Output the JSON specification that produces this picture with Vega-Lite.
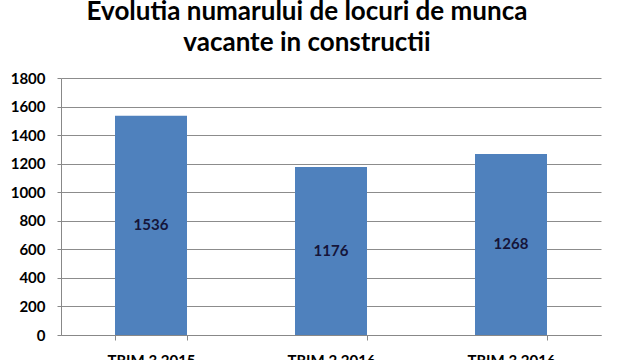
{
  "$schema": "https://vega.github.io/schema/vega-lite/v6.json",
  "width": 540,
  "height": 257,
  "autosize": {"type": "none"},
  "padding": {"left": 61, "top": 78, "right": 39, "bottom": 25},
  "background": "white",
  "title": {
    "text": ["Evolutia numarului de locuri de munca", "vacante in constructii"],
    "font": "Lato",
    "fontSize": 26,
    "fontWeight": "bold",
    "color": "#000000",
    "lineHeight": 31,
    "anchor": "middle",
    "dx": -24,
    "offset": 15
  },
  "data": {
    "values": [
      {"trim": "TRIM 3 2015", "locuri": 1536},
      {"trim": "TRIM 2 2016", "locuri": 1176},
      {"trim": "TRIM 3 2016", "locuri": 1268}
    ]
  },
  "config": {
    "view": {"stroke": null},
    "axis": {"labelFont": "Lato", "labelFontWeight": "bold", "labelColor": "#000000"},
    "axisY": {
      "values": [0, 200, 400, 600, 800, 1000, 1200, 1400, 1600, 1800],
      "format": "d",
      "labelOverlap": false,
      "labelFontSize": 15,
      "labelPadding": 12,
      "tickSize": 4,
      "tickColor": "#888888",
      "domainColor": "#888888",
      "gridColor": "#8c8c8c",
      "grid": true
    }
  },
  "encoding": {
    "x": {
      "field": "trim",
      "type": "nominal",
      "sort": null,
      "title": null,
      "scale": {"paddingInner": 0.6, "paddingOuter": 0.3},
      "axis": {
        "labelAngle": 0,
        "labelFontSize": 15,
        "labelPadding": 13,
        "tickBand": "extent",
        "tickSize": 5,
        "tickColor": "#888888",
        "domainColor": "#888888",
        "grid": false
      }
    }
  },
  "layer": [
    {
      "mark": {"type": "bar", "color": "#4F81BD"},
      "encoding": {
        "y": {
          "field": "locuri",
          "type": "quantitative",
          "title": null,
          "scale": {"domain": [0, 1800], "nice": false},
          "axis": {"values": [0, 200, 400, 600, 800, 1000, 1200, 1400, 1600, 1800], "labelOverlap": false}
        }
      }
    },
    {
      "transform": [{"calculate": "datum.locuri / 2", "as": "mid"}],
      "mark": {"type": "text", "font": "Lato", "fontSize": 15, "fontWeight": "bold", "color": "#15153a", "baseline": "middle"},
      "encoding": {
        "y": {"field": "mid", "type": "quantitative", "title": null, "axis": {"values": [0, 200, 400, 600, 800, 1000, 1200, 1400, 1600, 1800], "labelOverlap": false}},
        "text": {"field": "locuri", "type": "quantitative"}
      }
    }
  ]
}
